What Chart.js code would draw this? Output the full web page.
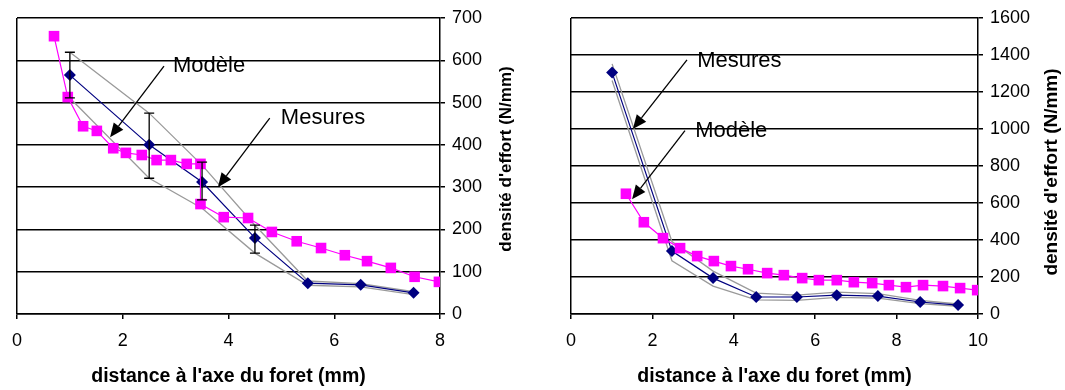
<!DOCTYPE html>
<html><head><meta charset="utf-8">
<script src="https://cdn.jsdelivr.net/npm/chart.js@4"></script>
<style>
html,body{margin:0;padding:0;background:#fff;width:1065px;height:390px;overflow:hidden}
.box{position:absolute;top:0;height:390px;width:530px}
#b1{left:0}
#b2{left:535px}
</style></head><body>
<div class="box" id="b1"><canvas id="c1" width="530" height="390"></canvas></div>
<div class="box" id="b2"><canvas id="c2" width="530" height="390"></canvas></div>
<script>
// ---------- Data: left chart ----------
const leftPinkX = [0.70, 0.96, 1.25, 1.51, 1.82, 2.06, 2.36, 2.64, 2.91, 3.21, 3.47, 3.47, 3.91, 4.37, 4.82, 5.29, 5.75, 6.20, 6.62, 7.07, 7.52, 7.98];
const leftPinkY = [657, 513, 444, 433, 392, 381, 376, 364, 364, 355, 355, 260, 229, 227, 194, 172, 156, 139, 125, 109, 88, 76];
const leftNavyX = [1, 2.5, 3.5, 4.5, 5.5, 6.5, 7.5];
const leftNavyY = [565, 400, 312, 180, 73, 69, 50];
const leftErrHi = [619, 475, 359, 210, null, null, null];
const leftErrLo = [511, 321, 270, 144, null, null, null];
const leftGrayX = [1, 2.5, 3.5, 4.5, 5.5, 6.5, 7.5];
const leftGrayUpper = [619, 475, 352, 210, 78, 72, 53];
const leftGrayLower = [511, 321, 250, 144, 68, 64, 46];

// ---------- Data: right chart ----------
const rightPinkX = [1.35, 1.79, 2.26, 2.68, 3.10, 3.51, 3.93, 4.35, 4.82, 5.23, 5.68, 6.09, 6.53, 6.95, 7.40, 7.81, 8.23, 8.65, 9.14, 9.56, 9.98];
const rightPinkY = [650, 496, 410, 356, 313, 286, 259, 242, 221, 210, 194, 183, 183, 172, 167, 156, 145, 156, 151, 140, 129];
const rightNavyX = [1.01, 2.48, 3.49, 4.55, 5.55, 6.53, 7.54, 8.58, 9.51];
const rightNavyY = [1305, 340, 194, 92, 92, 102, 97, 65, 48];
const rightGrayUpper = [1352, 392, 232, 113, 102, 118, 110, 74, 54];
const rightGrayLower = [1262, 288, 151, 76, 74, 90, 86, 56, 42];

// ---------- Ticks / labels ----------
const leftXTicks = [0, 2, 4, 6, 8];
const leftYTicks = [0, 100, 200, 300, 400, 500, 600, 700];
const rightXTicks = [0, 2, 4, 6, 8, 10];
const rightYTicks = [0, 200, 400, 600, 800, 1000, 1200, 1400, 1600];
const xTitle = "distance à l'axe du foret (mm)";
const yTitle = "densité d'effort (N/mm)";

// annotations (anchored in data units)
const leftNotes = [
  {text: 'Modèle', tx: 2.95, ty: 586, ax: 2.78, ay: 586, bx: 1.76, by: 418},
  {text: 'Mesures', tx: 4.99, ty: 463, ax: 4.78, ay: 463, bx: 3.80, by: 300}
];
const rightNotes = [
  {text: 'Mesures', tx: 3.10, ty: 1369, ax: 2.85, ay: 1374, bx: 1.52, by: 1000},
  {text: 'Modèle', tx: 3.05, ty: 991, ax: 2.80, ay: 991, bx: 1.50, by: 620}
];

const FONT = "'Liberation Sans', Arial, sans-serif";
const pts = (xs, ys) => xs.map((x, i) => ({x, y: ys[i]}));

const extrasPlugin = {
  id: 'extras',
  afterDatasetsDraw(chart, args, opts) {
    const ctx = chart.ctx, xs = chart.scales.x, ys = chart.scales.y;
    ctx.save();
    ctx.strokeStyle = '#000';
    ctx.lineWidth = 1.3;
    (opts.err || []).forEach(e => {
      const px = xs.getPixelForValue(e.x), p1 = ys.getPixelForValue(e.hi), p2 = ys.getPixelForValue(e.lo);
      ctx.beginPath();
      ctx.moveTo(px, p1); ctx.lineTo(px, p2);
      ctx.moveTo(px - 5, p1); ctx.lineTo(px + 5, p1);
      ctx.moveTo(px - 5, p2); ctx.lineTo(px + 5, p2);
      ctx.stroke();
    });
    // notes + arrows
    (opts.notes || []).forEach(n => {
      const ax = xs.getPixelForValue(n.ax), ay = ys.getPixelForValue(n.ay);
      const bx = xs.getPixelForValue(n.bx), by = ys.getPixelForValue(n.by);
      const ang = Math.atan2(by - ay, bx - ax), L = 14, W = 6;
      const hx = bx - L * Math.cos(ang), hy = by - L * Math.sin(ang);
      ctx.strokeStyle = '#000'; ctx.fillStyle = '#000'; ctx.lineWidth = 1.3;
      ctx.beginPath(); ctx.moveTo(ax, ay); ctx.lineTo(hx, hy); ctx.stroke();
      ctx.beginPath();
      ctx.moveTo(bx, by);
      ctx.lineTo(hx + W * Math.sin(ang), hy - W * Math.cos(ang));
      ctx.lineTo(hx - W * Math.sin(ang), hy + W * Math.cos(ang));
      ctx.closePath(); ctx.fill();
      ctx.font = '22px ' + FONT;
      ctx.textAlign = 'left'; ctx.textBaseline = 'middle';
      ctx.fillText(n.text, xs.getPixelForValue(n.tx), ys.getPixelForValue(n.ty));
    });
    // rotated y title (reads bottom to top)
    if (opts.yTitle) {
      ctx.translate(opts.yTitle.cx, opts.yTitle.cy);
      ctx.rotate(-Math.PI / 2);
      ctx.font = 'bold ' + opts.yTitle.size + 'px ' + FONT;
      ctx.textAlign = 'center'; ctx.textBaseline = 'middle';
      ctx.fillStyle = '#000';
      ctx.fillText(yTitle, 0, 0);
    }
    ctx.restore();
  }
};

function makeChart(id, c) {
  const datasets = [
    {data: pts(c.pinkX, c.pinkY), showLine: true, borderColor: '#FF00FF', backgroundColor: '#FF00FF',
     borderWidth: 1.2, pointStyle: 'rect', pointRadius: 7.5, pointBorderWidth: 0},
    {data: pts(c.navyX, c.navyY), showLine: true, borderColor: '#000080', backgroundColor: '#000080',
     borderWidth: 1.2, pointStyle: 'rectRot', pointRadius: 6, pointBorderWidth: 0},
    {data: pts(c.grayX, c.grayU), showLine: true, borderColor: '#9a9a9a', borderWidth: 1.3, pointRadius: 0},
    {data: pts(c.grayX, c.grayL), showLine: true, borderColor: '#9a9a9a', borderWidth: 1.3, pointRadius: 0}
  ];
  return new Chart(document.getElementById(id), {
    type: 'scatter',
    data: {datasets},
    options: {
      responsive: false, animation: false, devicePixelRatio: 1,
      layout: {padding: {left: c.padLeft, top: 18, right: 0, bottom: 0}},
      plugins: {legend: {display: false}, tooltip: {enabled: false},
        extras: {err: c.err, notes: c.notes, yTitle: c.yTitlePos}},
      scales: {
        x: {
          type: 'linear', position: 'bottom', min: 0, max: c.xTicks[c.xTicks.length - 1],
          afterBuildTicks: s => { s.ticks = c.xTicks.map(v => ({value: v})); },
          ticks: {font: {family: FONT, size: 18}, color: '#000', padding: 11, maxRotation: 0,
                  callback: v => String(v)},
          grid: {color: ctx => ctx.index === 0 ? '#000' : 'rgba(0,0,0,0)', lineWidth: 1.5,
                 drawTicks: true, tickLength: 5, tickColor: '#000', tickWidth: 1.5},
          border: {color: '#000', width: 1.5},
          title: {display: true, text: xTitle, color: '#000',
                  font: {family: FONT, size: 19.5, weight: 'bold'}, padding: {top: 0, bottom: 2}},
          afterFit: s => { s.height = 76; }
        },
        y: {
          type: 'linear', position: 'right', min: 0, max: c.yTicks[c.yTicks.length - 1],
          afterBuildTicks: s => { s.ticks = c.yTicks.map(v => ({value: v})); },
          ticks: {font: {family: FONT, size: 18}, color: '#000', padding: 7,
                  callback: v => String(v)},
          grid: {color: '#000', lineWidth: 1.5, drawTicks: true, tickLength: 5, tickColor: '#000'},
          border: {color: '#000', width: 1.5},
          afterFit: s => { s.width = c.yWidth; }
        }
      }
    },
    plugins: [extrasPlugin]
  });
}

makeChart('c1', {
  pinkX: leftPinkX, pinkY: leftPinkY, navyX: leftNavyX, navyY: leftNavyY,
  grayX: leftGrayX, grayU: leftGrayUpper, grayL: leftGrayLower,
  err: leftNavyX.map((x, i) => ({x, hi: leftErrHi[i], lo: leftErrLo[i]})).filter(e => e.hi !== null),
  notes: leftNotes, xTicks: leftXTicks, yTicks: leftYTicks,
  padLeft: 17, yWidth: 90, yTitlePos: {cx: 506, cy: 159, size: 17}
});
makeChart('c2', {
  pinkX: rightPinkX, pinkY: rightPinkY, navyX: rightNavyX, navyY: rightNavyY,
  grayX: rightNavyX, grayU: rightGrayUpper, grayL: rightGrayLower,
  err: [], notes: rightNotes, xTicks: rightXTicks, yTicks: rightYTicks,
  padLeft: 36, yWidth: 87, yTitlePos: {cx: 517, cy: 172, size: 19}
});
</script>
</body></html>
